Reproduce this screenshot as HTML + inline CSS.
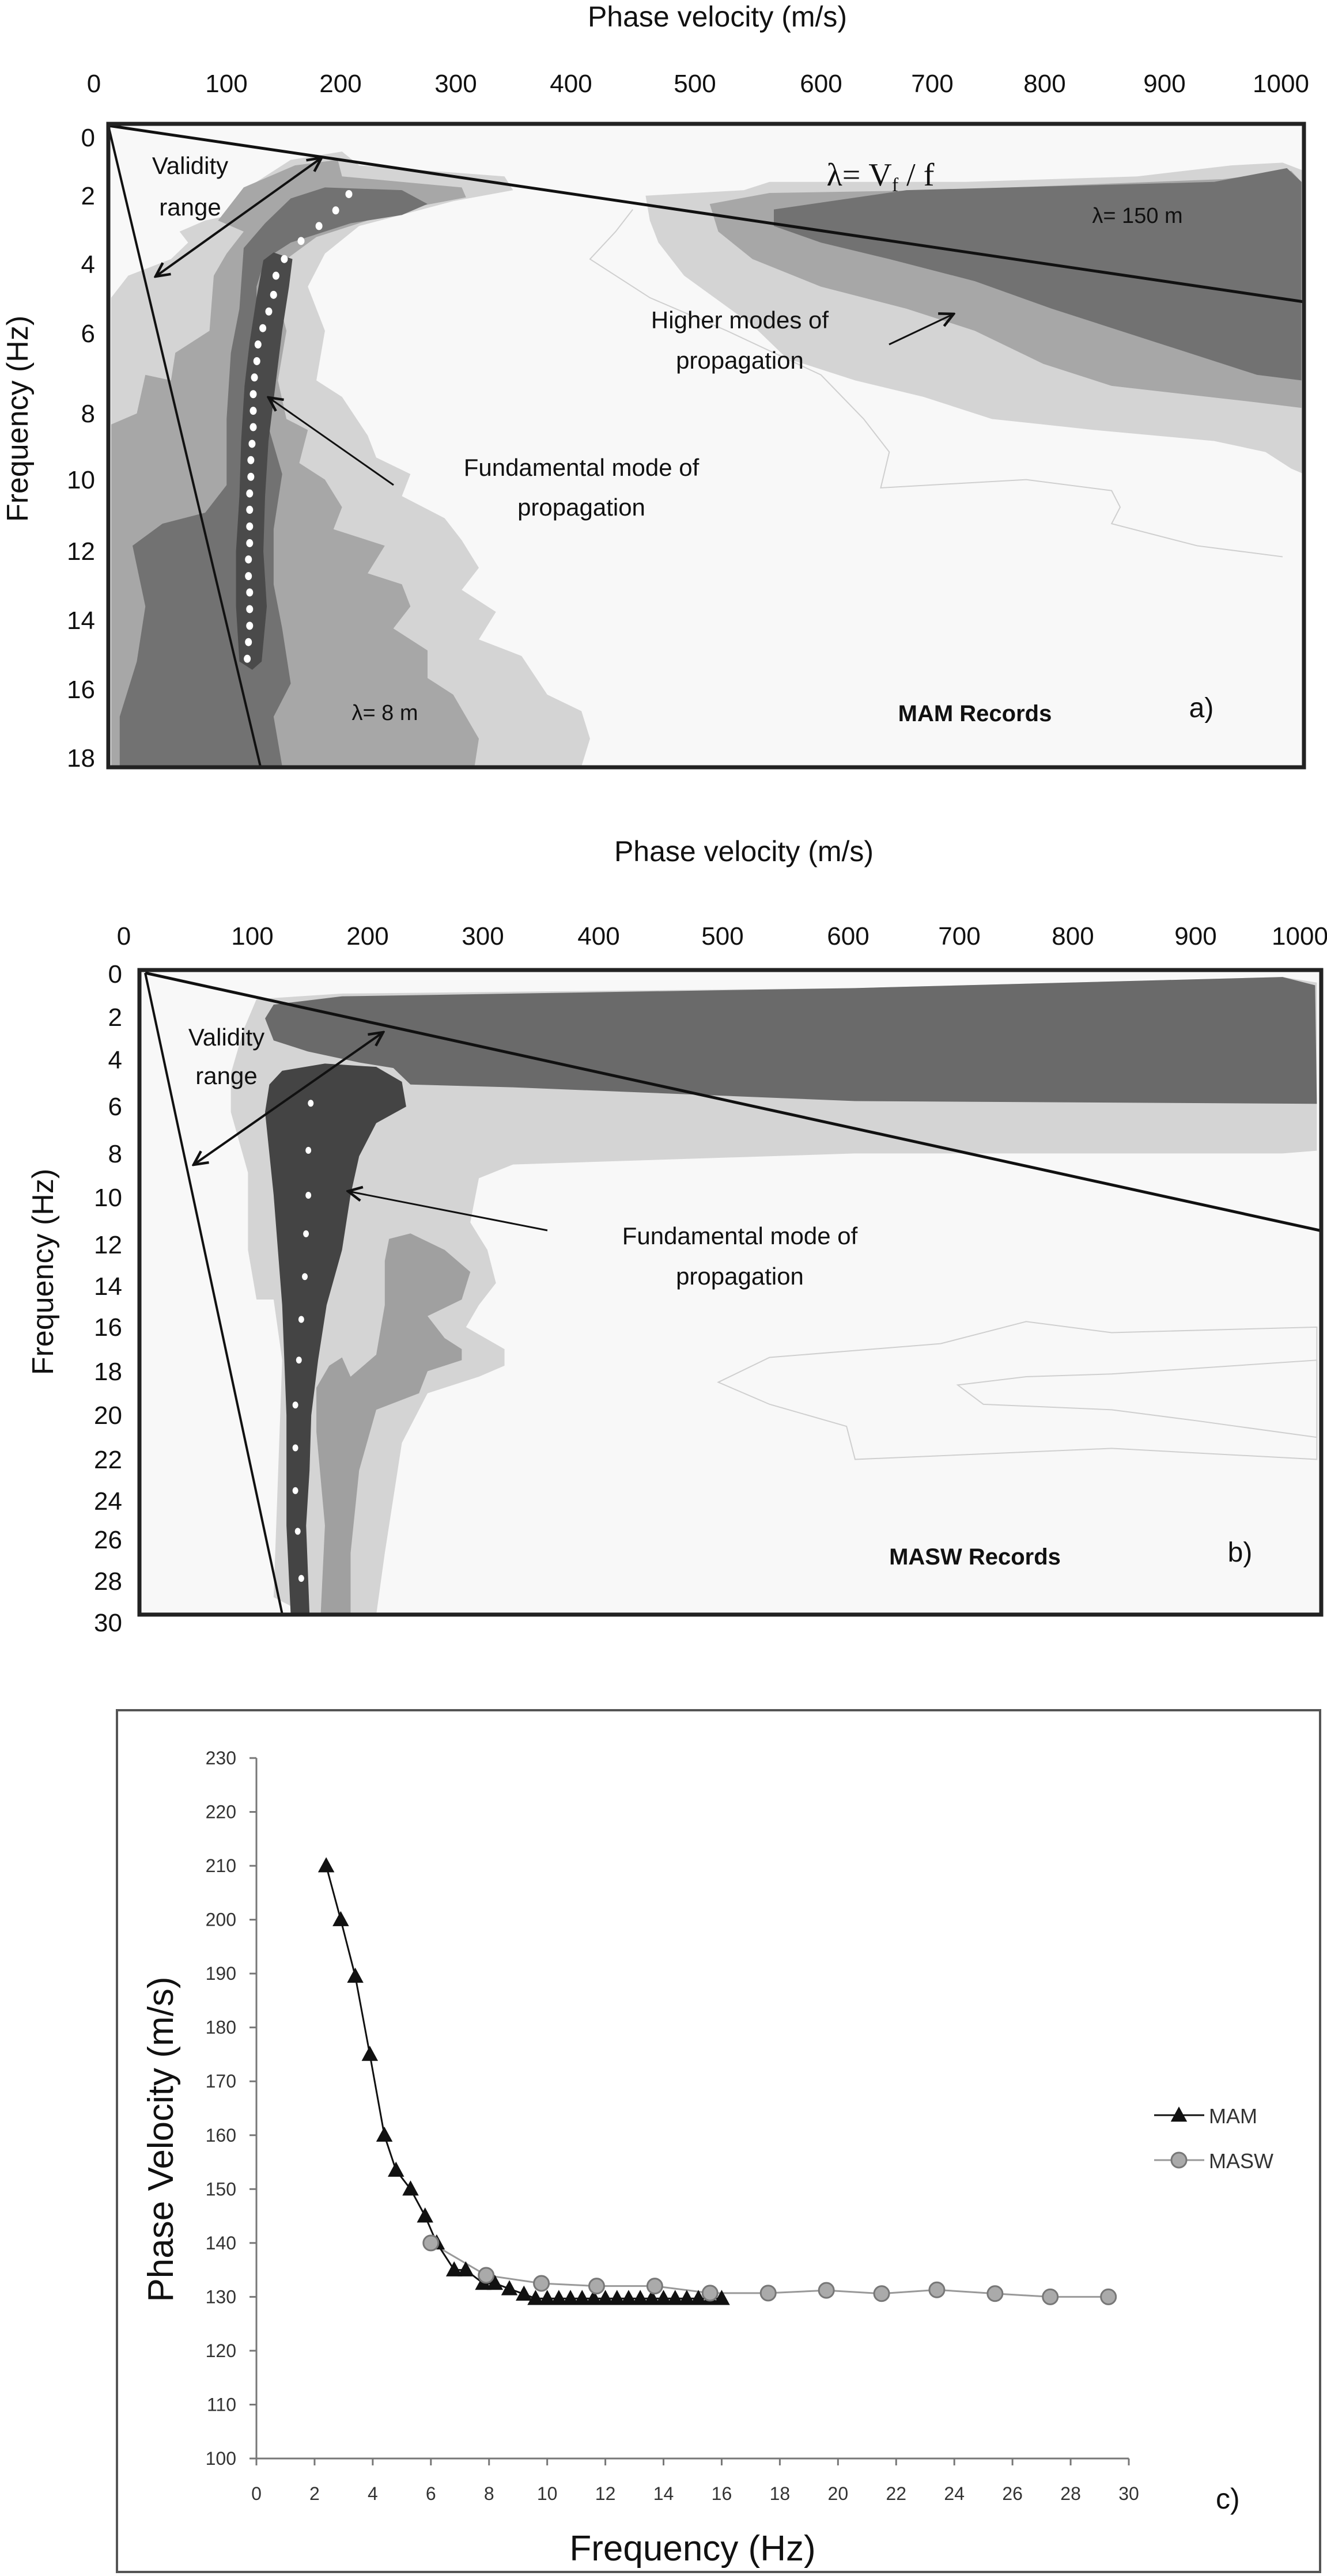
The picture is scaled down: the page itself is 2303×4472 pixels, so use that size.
<!DOCTYPE html>
<html><head><meta charset="utf-8"><style>
html,body{margin:0;padding:0;background:#fff;}
svg{display:block;font-family:"Liberation Sans",sans-serif;}
</style></head><body>
<svg id="fig" width="2303" height="4472" viewBox="0 0 2303 4472" xmlns="http://www.w3.org/2000/svg">
<defs>
<marker id="ah" markerWidth="10" markerHeight="10" refX="9" refY="5" orient="auto-start-reverse" markerUnits="userSpaceOnUse"><path d="M0,0 L10,5 L0,10" fill="none" stroke="#111" stroke-width="0"/></marker>
<marker id="ar" viewBox="0 0 20 20" markerWidth="30" markerHeight="30" refX="18" refY="10" orient="auto-start-reverse" markerUnits="userSpaceOnUse"><path d="M2,2 L18,10 L2,18" fill="none" stroke="#111" stroke-width="3"/></marker>
</defs>

<!-- ================= PANEL A ================= -->
<g>
<text x="1245" y="46" font-size="50" text-anchor="middle" fill="#111">Phase velocity (m/s)</text>
<g font-size="44" text-anchor="middle" fill="#111">
<text x="163" y="160">0</text><text x="393" y="160">100</text><text x="591" y="160">200</text><text x="791" y="160">300</text><text x="991" y="160">400</text><text x="1206" y="160">500</text><text x="1425" y="160">600</text><text x="1618" y="160">700</text><text x="1813" y="160">800</text><text x="2021" y="160">900</text><text x="2223" y="160">1000</text>
</g>
<g font-size="44" text-anchor="end" fill="#111">
<text x="165" y="254">0</text><text x="165" y="355">2</text><text x="165" y="474">4</text><text x="165" y="594">6</text><text x="165" y="733">8</text><text x="165" y="848">10</text><text x="165" y="972">12</text><text x="165" y="1092">14</text><text x="165" y="1212">16</text><text x="165" y="1331">18</text>
</g>
<text transform="translate(48,727) rotate(-90)" font-size="52" text-anchor="middle" fill="#111">Frequency (Hz)</text>
<rect x="188" y="215" width="2075" height="1117" fill="#f8f8f8"/>
<g transform="matrix(1.484 0 0 0.957 0 0)">
<!-- left fundamental zone -->
<polygon fill="#d4d4d4" points="340,290 400,275 420,300 590,320 600,345 530,365 420,410 380,460 360,520 380,600 370,690 400,720 430,790 440,830 480,860 470,900 520,940 540,980 560,1030 540,1070 580,1110 560,1160 610,1190 640,1260 680,1290 690,1340 680,1390 130,1390 130,540 150,500 200,470 220,440 210,420 240,400 270,390 300,330"/>
<polygon fill="#a7a7a7" points="345,300 395,290 400,320 540,340 545,358 470,380 370,430 335,470 325,540 335,600 325,690 335,760 360,780 350,840 380,870 400,920 390,960 450,990 430,1040 470,1060 480,1100 460,1140 500,1180 500,1230 530,1260 560,1340 555,1390 130,1390 130,770 160,750 170,680 200,690 205,640 245,600 250,500 265,460 285,420 255,400 285,340"/>
<polygon fill="#727272" points="380,340 470,345 500,370 470,390 410,405 340,440 310,470 300,520 300,600 305,700 315,780 330,860 320,960 320,1060 330,1140 340,1240 320,1300 330,1390 140,1390 140,1300 160,1200 170,1100 155,990 190,950 240,930 265,880 265,760 270,640 280,560 285,450 310,405 340,360"/>
<polygon fill="#4a4a4a" points="320,458 342,470 338,520 330,600 322,700 314,800 310,900 308,1000 312,1100 306,1200 295,1215 280,1200 276,1100 276,1000 280,900 282,800 286,700 292,620 300,540 308,472"/>
<!-- higher modes -->
<polygon fill="#d4d4d4" points="755,355 870,345 900,330 1130,330 1330,320 1440,300 1500,295 1525,310 1525,860 1510,850 1480,820 1420,800 1280,780 1160,760 1080,720 1000,690 920,650 880,590 800,500 770,440 760,400"/>
<polygon fill="#a7a7a7" points="830,370 900,350 1100,345 1430,325 1510,310 1522,330 1522,740 1470,730 1300,700 1220,660 1140,600 1060,560 960,520 880,470 840,420"/>
<polygon fill="#727272" points="905,380 1060,345 1300,335 1420,330 1505,305 1522,330 1522,690 1470,680 1350,620 1230,560 1140,510 1040,470 960,440 905,410"/>
<polyline fill="none" stroke="#cfcfcf" stroke-width="2" vector-effect="non-scaling-stroke" points="740,380 720,420 690,470 760,540 850,600 960,680 1010,760 1040,820 1030,885 1200,870 1300,890 1310,920 1300,950 1400,990 1500,1010"/>
</g>
<circle cx="0" cy="0" r="0"/>
<g id="dotsA"></g>
<line x1="188" y1="218" x2="2263" y2="524" stroke="#111" stroke-width="5"/>
<line x1="188" y1="218" x2="453" y2="1335" stroke="#111" stroke-width="4"/>
<rect x="188" y="215" width="2075" height="1117" fill="none" stroke="#222" stroke-width="7"/>
<line x1="558" y1="274" x2="270" y2="480" stroke="#111" stroke-width="4" marker-start="url(#ar)" marker-end="url(#ar)"/>
<line x1="683" y1="842" x2="466" y2="690" stroke="#111" stroke-width="3" marker-end="url(#ar)"/>
<line x1="1543" y1="598" x2="1655" y2="545" stroke="#111" stroke-width="3" marker-end="url(#ar)"/>
<g font-size="42" fill="#111" text-anchor="middle">
<text x="330" y="302">Validity</text>
<text x="330" y="374">range</text>
<text x="1284" y="570">Higher modes of</text>
<text x="1284" y="640">propagation</text>
<text x="1009" y="826">Fundamental mode of</text>
<text x="1009" y="895">propagation</text>
<text x="668" y="1250" font-size="38">λ= 8 m</text>
<text x="1974" y="387" font-size="38">λ= 150 m</text>
<text x="1692" y="1252" font-weight="bold" font-size="40">MAM Records</text>
<text x="2085" y="1245" font-size="48">a)</text>
</g>
<text x="1528" y="322" font-family="'Liberation Serif',serif" font-size="56" text-anchor="middle" fill="#111">λ= V<tspan font-size="34" dy="10">f</tspan><tspan dy="-10"> / f</tspan></text>
</g>

<!-- ================= PANEL B ================= -->
<g>
<text x="1291" y="1495" font-size="50" text-anchor="middle" fill="#111">Phase velocity (m/s)</text>
<g font-size="44" text-anchor="middle" fill="#111">
<text x="215" y="1640">0</text><text x="438" y="1640">100</text><text x="638" y="1640">200</text><text x="838" y="1640">300</text><text x="1039" y="1640">400</text><text x="1254" y="1640">500</text><text x="1472" y="1640">600</text><text x="1665" y="1640">700</text><text x="1862" y="1640">800</text><text x="2075" y="1640">900</text><text x="2256" y="1640">1000</text>
</g>
<g font-size="44" text-anchor="end" fill="#111">
<text x="212" y="1706">0</text><text x="212" y="1781">2</text><text x="212" y="1855">4</text><text x="212" y="1936">6</text><text x="212" y="2018">8</text><text x="212" y="2094">10</text><text x="212" y="2176">12</text><text x="212" y="2248">14</text><text x="212" y="2319">16</text><text x="212" y="2396">18</text><text x="212" y="2472">20</text><text x="212" y="2549">22</text><text x="212" y="2621">24</text><text x="212" y="2688">26</text><text x="212" y="2760">28</text><text x="212" y="2832">30</text>
</g>
<text transform="translate(92,2208) rotate(-90)" font-size="52" text-anchor="middle" fill="#111">Frequency (Hz)</text>
<rect x="242" y="1684" width="2051" height="1119" fill="#f8f8f8"/>
<g transform="matrix(1.484 0 0 0.957 0 1500)">
<polygon fill="#d4d4d4" points="300,245 400,235 1000,225 1500,205 1540,215 1540,520 1500,525 1000,525 600,545 560,570 550,650 570,700 580,760 560,800 545,840 590,880 590,910 560,930 500,960 470,1050 460,1150 450,1250 440,1362 360,1362 320,1330 330,900 320,790 300,790 290,700 290,560 270,450 270,380 285,300"/>
<polygon fill="#6a6a6a" points="320,255 400,240 1000,225 1500,205 1538,220 1540,435 1000,430 600,405 480,400 460,370 420,360 360,340 320,320 310,280"/>
<polygon fill="#a0a0a0" points="455,680 480,670 520,700 550,740 540,790 500,820 520,860 540,880 540,900 500,920 490,960 440,990 420,1100 410,1250 410,1362 375,1362 380,1200 370,1030 370,950 385,910 400,895 410,930 440,890 450,800 450,720"/>
<polygon fill="#444444" points="330,375 380,362 440,368 470,395 475,440 440,470 420,530 410,600 400,700 382,800 372,900 364,1000 362,1100 358,1200 362,1362 340,1362 335,1200 335,1000 330,800 320,600 310,450 315,400"/>
<polygon fill="none" stroke="#cfcfcf" stroke-width="2" vector-effect="non-scaling-stroke" points="840,940 900,895 1100,870 1200,830 1300,850 1540,840 1540,1080 1300,1060 1000,1080 990,1020 900,980"/>
<polygon fill="none" stroke="#cfcfcf" stroke-width="2" vector-effect="non-scaling-stroke" points="1120,945 1200,930 1300,925 1540,900 1540,1040 1400,1010 1300,990 1150,980"/>
</g>
<g id="dotsB"></g>
<line x1="252" y1="1689" x2="2290" y2="2136" stroke="#111" stroke-width="5"/>
<line x1="252" y1="1689" x2="490" y2="2803" stroke="#111" stroke-width="4"/>
<rect x="242" y="1684" width="2051" height="1119" fill="none" stroke="#222" stroke-width="7"/>
<line x1="665" y1="1792" x2="336" y2="2022" stroke="#111" stroke-width="4" marker-start="url(#ar)" marker-end="url(#ar)"/>
<line x1="950" y1="2136" x2="604" y2="2068" stroke="#111" stroke-width="3" marker-end="url(#ar)"/>
<g font-size="42" fill="#111" text-anchor="middle">
<text x="393" y="1815">Validity</text>
<text x="393" y="1882">range</text>
<text x="1284" y="2160">Fundamental mode of</text>
<text x="1284" y="2230">propagation</text>
<text x="1692" y="2716" font-weight="bold" font-size="40">MASW Records</text>
<text x="2152" y="2711" font-size="48">b)</text>
</g>
</g>

<!-- ================= PANEL C ================= -->
<g>
<rect x="203" y="2969" width="2088" height="1496" fill="#fff" stroke="#555" stroke-width="4"/>
<g id="chartC"></g>
</g>
</svg>
<script>
// Fundamental-mode picks (panel a / b): frequency (Hz) and velocity (m/s)
var picksAFreq=[1.97,2.44,2.89,3.32,3.84,4.32,4.87,5.35,5.83,6.30,6.78,7.25,7.73,8.21,8.68,9.16,9.63,10.11,10.59,11.06,11.54,12.02,12.49,12.97,13.44,13.92,14.40,14.87,15.35];
var picksAVel=[201,190,176,161,147,140,138,134,129,125,124,122,121,121,121,120,119,119,118,118,118,118,117,117,118,118,118,117,116];
var picksBFreq=[6.1,8.3,10.4,12.2,14.2,16.2,18.1,20.2,22.2,24.2,26.1,28.3];
var picksBVel=[145,143,143,141,140,137,135,132,132,132,134,137];
// Panel c data
var mamFreq=[2.4,2.9,3.4,3.9,4.4,4.8,5.3,5.8,6.2,6.8,7.2,7.8,8.2,8.7,9.2,9.6,10.0,10.4,10.8,11.2,11.6,12.0,12.4,12.8,13.2,13.6,14.0,14.4,14.8,15.2,15.6,16.0];
var mamVel=[210,200,189.5,175,160,153.5,150,145,140,135,135,132.5,132.5,131.5,130.5,129.7,129.7,129.7,129.7,129.7,129.7,129.7,129.7,129.7,129.7,129.7,129.7,129.7,129.7,129.7,129.7,129.7];
var maswFreq=[6.0,7.9,9.8,11.7,13.7,15.6,17.6,19.6,21.5,23.4,25.4,27.3,29.3];
var maswVel=[140,134,132.5,132,132,130.7,130.7,131.2,130.6,131.3,130.6,130,130];
var xTicksC=[0,2,4,6,8,10,12,14,16,18,20,22,24,26,28,30];
var yTicksC=[100,110,120,130,140,150,160,170,180,190,200,210,220,230];

var NS="http://www.w3.org/2000/svg";
function mk(tag,attrs,parent){var e=document.createElementNS(NS,tag);for(var k in attrs)e.setAttribute(k,attrs[k]);parent.appendChild(e);return e;}

// panel a axes (pixel mapping)
function axA(v){return (127+v*1.398)*1.484;}
function ayA(f){return (228+f*63)*0.957;}
function axB(v){return (163+v*1.382)*1.484;}
function ayB(f){return 1500+(197+f*38.83)*0.957;}
var dA=document.getElementById('dotsA');
for(var i=0;i<picksAFreq.length;i++){
  var c=mk('ellipse',{cx:axA(picksAVel[i]),cy:ayA(picksAFreq[i]),rx:6,ry:7,fill:'#fff'},dA);
  
  
}
var dB=document.getElementById('dotsB');
for(var i=0;i<picksBFreq.length;i++){
  var c=mk('ellipse',{cx:axB(picksBVel[i]),cy:ayB(picksBFreq[i]),rx:5,ry:6,fill:'#fff'},dB);
  
  
}

// panel c
var X0=445,X1=1959,Y0=4268,Y1=3052;
function xC(f){return X0+(f-0)/30*(X1-X0);}
function yC(v){return Y0-(v-100)/130*(Y0-Y1);}
var g=document.getElementById('chartC');
var ax=mk('line',{x1:X0,y1:Y0,x2:X1,y2:Y0,stroke:'#777','stroke-width':3},g);


var ay=mk('line',{x1:X0,y1:Y0,x2:X0,y2:Y1,stroke:'#777','stroke-width':3},g);


xTicksC.forEach(function(t){
  mk('line',{x1:xC(t),y1:Y0,x2:xC(t),y2:Y0+12,stroke:'#777','stroke-width':3},g);
  var tx=mk('text',{x:xC(t),y:4340,'font-size':32,'text-anchor':'middle',fill:'#333'},g);
  tx.textContent=t;
  
  
});
yTicksC.forEach(function(t){
  mk('line',{x1:X0-12,y1:yC(t),x2:X0,y2:yC(t),stroke:'#777','stroke-width':3},g);
  var tx=mk('text',{x:410,y:yC(t)+11,'font-size':32,'text-anchor':'end',fill:'#333'},g);
  tx.textContent=t;
  
  
});
var xt=mk('text',{x:1202,y:4445,'font-size':62,'text-anchor':'middle',fill:'#111'},g);
xt.textContent='Frequency (Hz)';


var yt=mk('text',{transform:'translate(300,3714) rotate(-90)','font-size':62,'text-anchor':'middle',fill:'#111'},g);
yt.textContent='Phase Velocity (m/s)';


var pl=mk('text',{x:2110,y:4355,'font-size':50,fill:'#111'},g);
pl.textContent='c)';



// MASW series
var ptsM=maswFreq.map(function(f,i){return xC(f)+','+yC(maswVel[i]);}).join(' ');
var lm=mk('polyline',{points:ptsM,fill:'none',stroke:'#999','stroke-width':3},g);


// MAM series
var ptsA=mamFreq.map(function(f,i){return xC(f)+','+yC(mamVel[i]);}).join(' ');
var la=mk('polyline',{points:ptsA,fill:'none',stroke:'#111','stroke-width':3},g);


function tri(cx,cy,s){return (cx)+','+(cy-s)+' '+(cx-s*0.95)+','+(cy+s*0.75)+' '+(cx+s*0.95)+','+(cy+s*0.75);}
mamFreq.forEach(function(f,i){
  var t=mk('polygon',{points:tri(xC(f),yC(mamVel[i]),15),fill:'#111'},g);
  
  
});
maswFreq.forEach(function(f,i){
  var c=mk('circle',{cx:xC(f),cy:yC(maswVel[i]),r:13,fill:'#aaa',stroke:'#777','stroke-width':3},g);
  
  
});
// legend
var l1=mk('line',{x1:2003,y1:3672,x2:2090,y2:3672,stroke:'#111','stroke-width':3},g);


var l1m=mk('polygon',{points:tri(2046,3672,15),fill:'#111'},g);


var l1t=mk('text',{x:2098,y:3686,'font-size':36,fill:'#333'},g);
l1t.textContent='MAM';


var l2=mk('line',{x1:2003,y1:3750,x2:2090,y2:3750,stroke:'#999','stroke-width':3},g);


var l2m=mk('circle',{cx:2046,cy:3750,r:13,fill:'#aaa',stroke:'#777','stroke-width':3},g);


var l2t=mk('text',{x:2098,y:3764,'font-size':36,fill:'#333'},g);
l2t.textContent='MASW';


</script>
</body></html>
